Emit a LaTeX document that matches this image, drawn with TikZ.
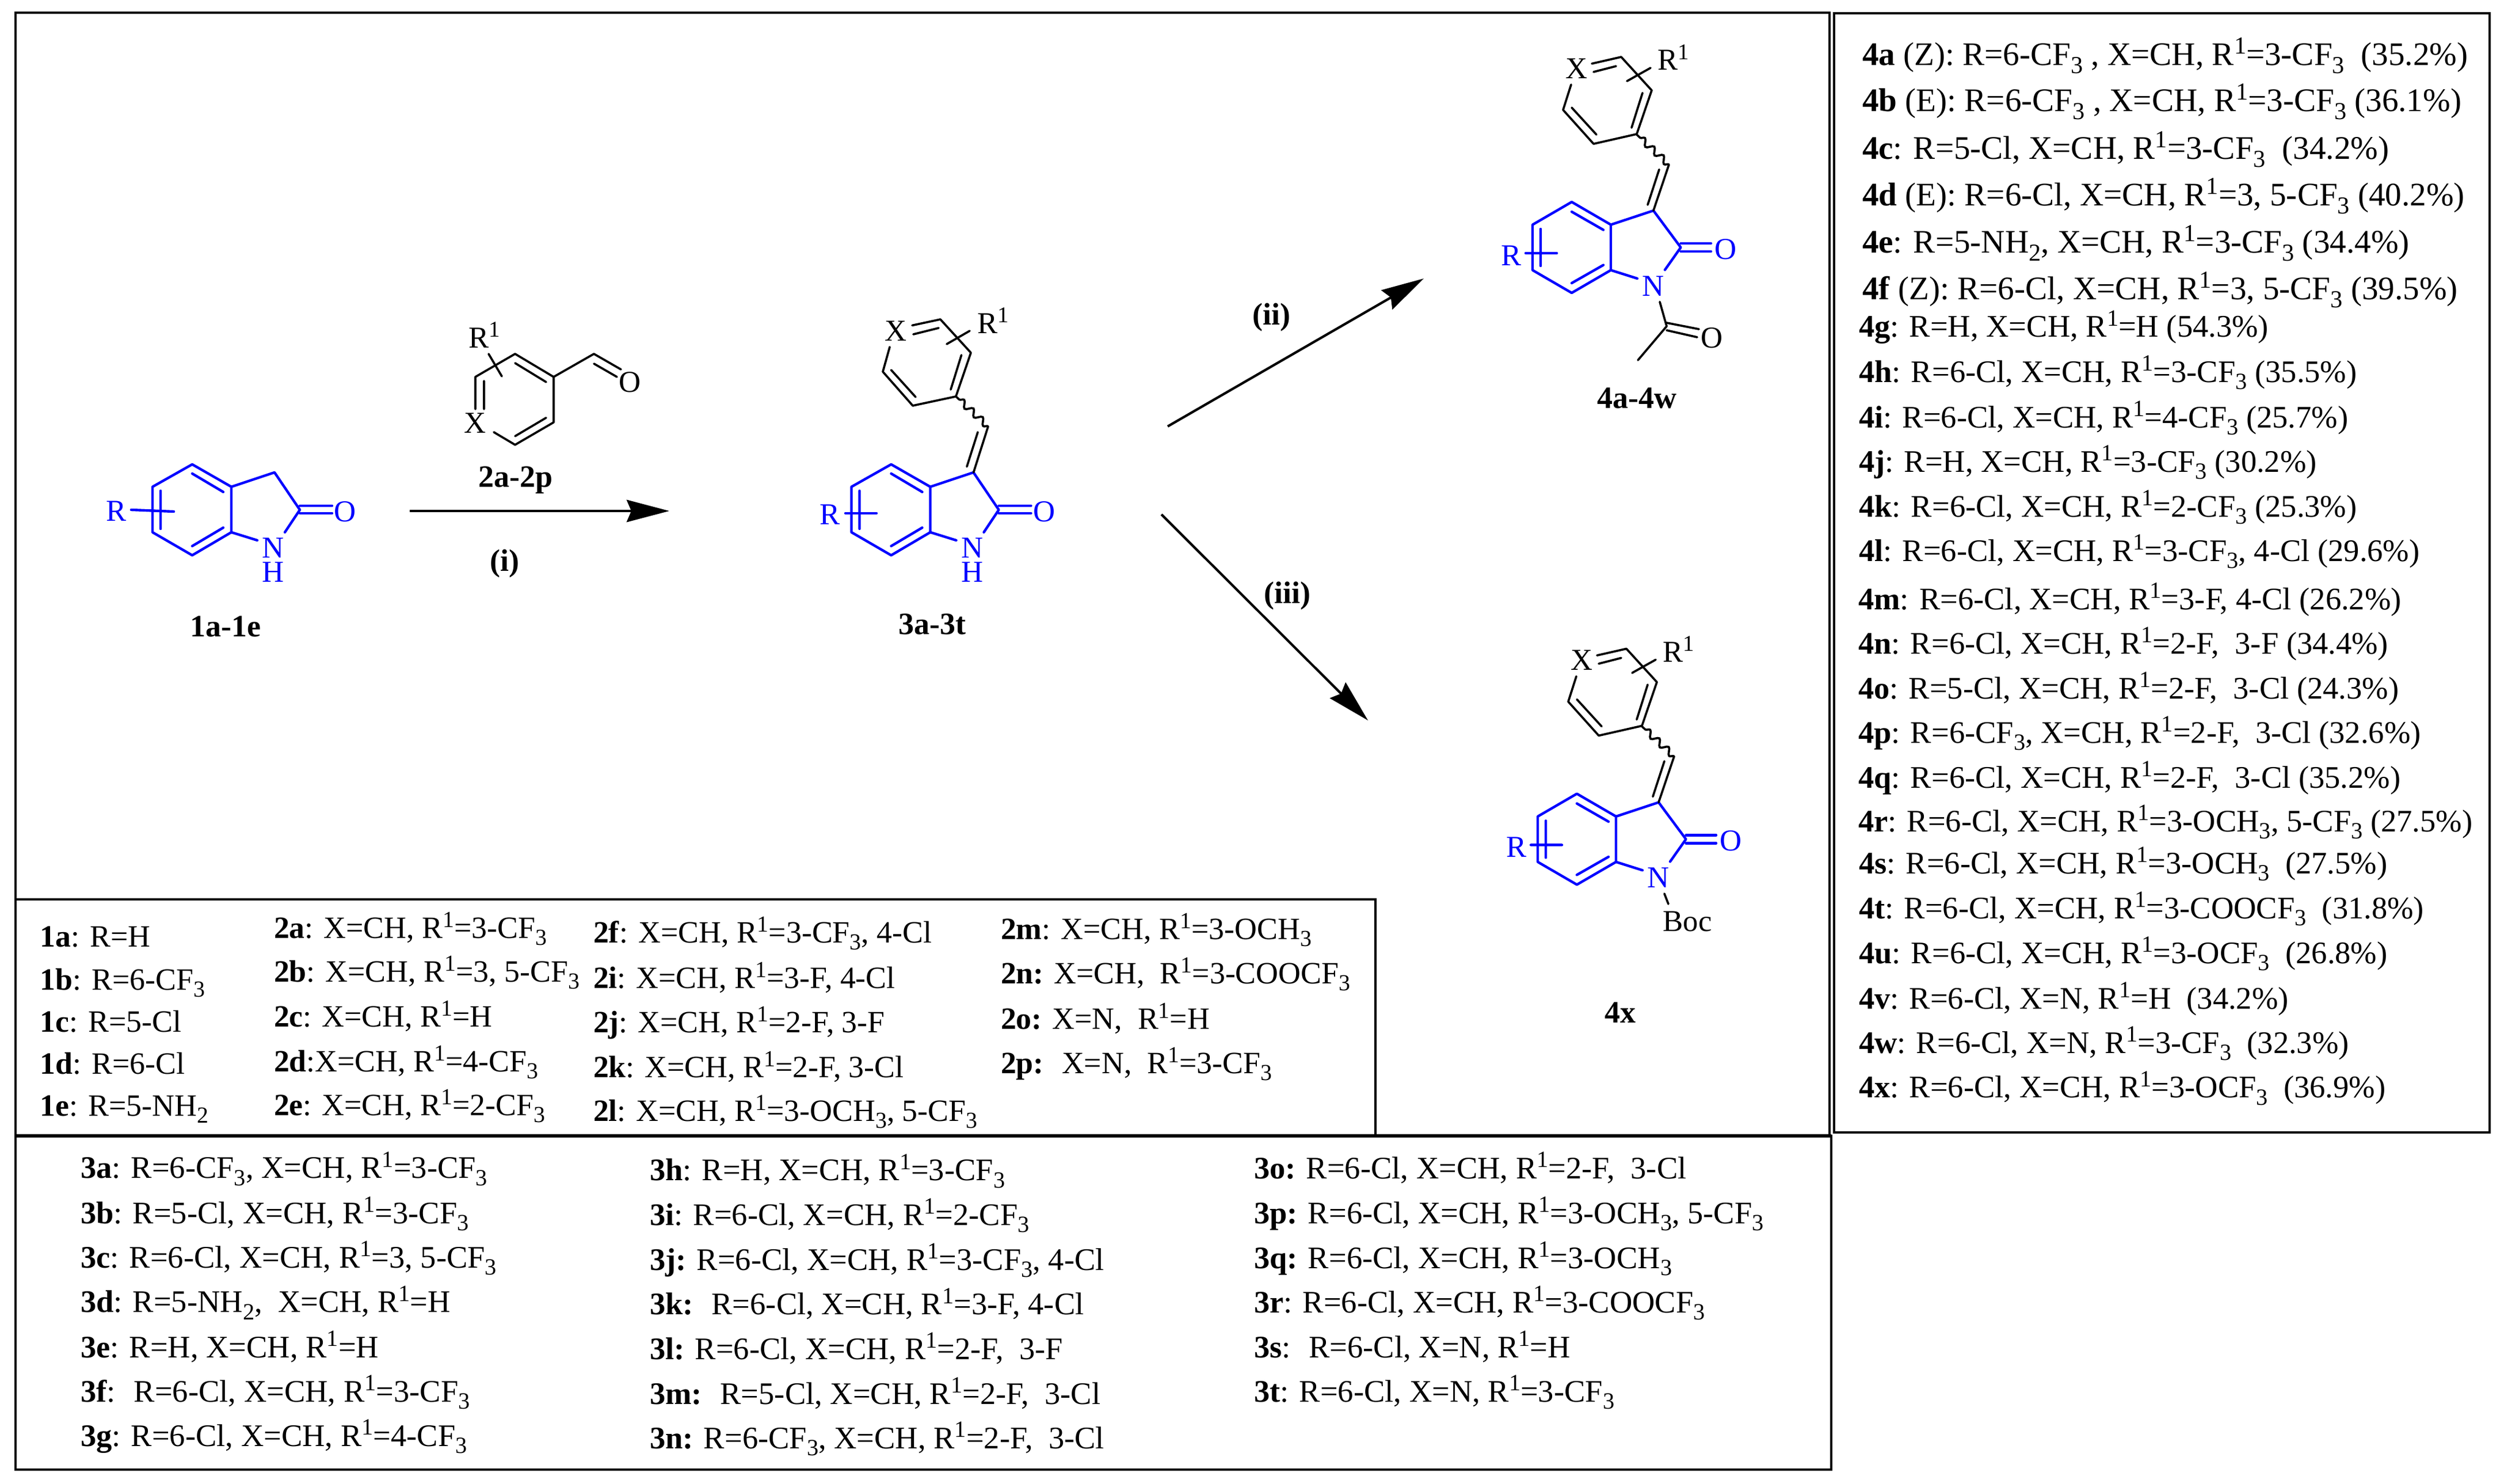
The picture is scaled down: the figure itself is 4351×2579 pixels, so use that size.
\documentclass[tikz,border=0pt]{standalone}
\usepackage{fontspec}
\setmainfont{Liberation Serif}
\usetikzlibrary{arrows.meta,decorations.pathmorphing}
\definecolor{chemblue}{RGB}{0,0,255}
\newcommand\supn[1]{\raisebox{.35em}{\scalebox{.74}{#1}}}
\newcommand\subn[1]{\raisebox{-.23em}{\scalebox{.74}{#1}}}
\newcommand\Ra{R\supn{1}}
\newcommand\CFt{CF\subn{3}}
\newcommand\OCHt{OCH\subn{3}}
\newcommand\tl[5][tabB]{\node[tx,#1] (t#2) at (#3,#4) {#5};}
\tikzset{
  tx/.style={anchor=base west,inner sep=0pt,outer sep=0pt},
  tabA/.style={font=\fontsize{15.3}{18}\selectfont},
  tabB/.style={font=\fontsize{15.5}{18}\selectfont},
  tabC/.style={font=\fontsize{15.5}{18}\selectfont},
  tabD/.style={font=\fontsize{16.25}{18}\selectfont},
  atomlab/.style={inner sep=0pt,outer sep=0pt,font=\fontsize{15}{16}\selectfont},
  nhlab/.style={inner sep=0pt,outer sep=0pt,align=center,text=chemblue,font=\fontsize{15}{12}\selectfont},
  cmpd/.style={inner sep=0pt,outer sep=0pt,font=\fontsize{15.36}{18}\selectfont\bfseries},
  bbond/.style={draw=chemblue,line width=1.25pt,line cap=round,line join=round},
  kbond/.style={draw=black,line width=1.05pt,line cap=round,line join=round},
  wavy/.style={draw=black,line width=1.05pt,decorate,decoration={snake,segment length=.22cm,amplitude=.055cm}},
  frameline/.style={draw=black,line width=1.05pt},
  rxn/.style={draw=black,line width=1.2pt,-{Stealth[length=.74cm,width=.385cm,inset=.08cm]}},
}
% oxindole core used for 1a-1e and 3a-3t
\newcommand\coreNH[2]{%
 \begin{scope}[xshift=#2*0.01cm]
  \draw[bbond] (402,846)--(334,807)--(265,846)--(265,925)--(334,965)--(402,925)--cycle;
  \draw[bbond] (402,846)--(477,821)--(521,886)--(495,925);
  \draw[bbond] (402,925)--(447,939);
  \draw[bbond] (334,823)--(388,855) (334,949)--(388,917) (279,853)--(279,919);
  \draw[bbond] (521,879)--(577,879) (521,892)--(577,892);
  \node[atomlab,text=chemblue] (#1O) at (600,889) {O};
  \node[nhlab] (#1N) at (475,973) {N\\H};
 \end{scope}}
% N-substituted product core with aryl ring
\newcommand\coreProd[3]{%
 \begin{scope}[shift={(#2,#3)}]
  \draw[bbond] (2799,390.5)--(2731,351)--(2663,390.5)--(2663,469.5)--(2731,509)--(2799,469.5)--cycle;
  \draw[bbond] (2799,390.5)--(2873,366)--(2920.5,430)--(2893,469);
  \draw[bbond] (2799,469.5)--(2845,484);
  \draw[bbond] (2731,368)--(2786,399.5) (2731,492)--(2786,460.6) (2677,398)--(2677,462) (2651,440)--(2705,440);
  \draw[bbond] (2920.5,423)--(2973,423) (2920.5,437)--(2973,437);
  \node[atomlab,text=chemblue] (#1O) at (2999,433) {O};
  \node[atomlab,text=chemblue] (#1N) at (2873,497) {N};
  \node[atomlab,text=chemblue] (#1R) at (2626,444) {R};
  \draw[kbond] (2873,366)--(2900,286) (2863,356)--(2883,294.5);
  \draw[wavy] (2900,286)--(2844,234);
  \draw[kbond] (2730,147)--(2716,191)--(2769,250)--(2844,233)--(2870,157)--(2817,99)--(2766,110.6);
  \draw[kbond] (2808,115)--(2769,125) (2731,187)--(2774,234) (2854,161.5)--(2835,222) (2868,118)--(2827,141);
  \node[atomlab] (#1X) at (2740,119) {X};
  \node[atomlab,tx] (#1Ra) at (2880,122) {\Ra};
 \end{scope}}
\begin{document}
\begin{tikzpicture}[x=0.01cm,y=-0.01cm]
\useasboundingbox (0,0) rectangle (4351,2579);
% frames
\draw[frameline] (27,22) rectangle (3179,1974);
\draw[frameline] (27,1563) rectangle (2390,1974);
\draw[frameline] (27,1974) rectangle (3182,2554);
\draw[frameline] (3187,23) rectangle (4326,1968);
\draw[draw=black,line width=1.9pt] (27,1974)--(3182,1974);
\draw[draw=black,line width=1.3pt] (27,1563)--(2390,1563);
\draw[draw=black,line width=1.3pt] (27,22)--(3179,22);

% compound 1
\coreNH{a}{0}
\draw[bbond] (228,886)--(302,889);
\node[atomlab,text=chemblue] (aR) at (202,888) {R};
\node[cmpd] (lab1) at (392,1089) {1a-1e};

% compound 2
\draw[kbond] (826,711)--(826,655)--(895,615)--(962,655)--(962,734)--(895,773)--(858,751);
\draw[kbond] (841,662)--(841,711) (895,631)--(949,664) (949,726)--(895,758) (849,615)--(872,654);
\draw[kbond] (962,655)--(1032,615)--(1079,642) (1032,632)--(1072,655);
\node[atomlab] (bX) at (826,735) {X};
\node[atomlab] (bO) at (1095,664) {O};
\node[atomlab,tx] (bR) at (814,604) {\Ra};
\node[cmpd] (lab2) at (896,834) {2a-2p};
\node[cmpd] (labi) at (877,980) {(i)};

% compound 3
\coreNH{c}{1214.5}
\draw[bbond] (1469,892)--(1523,892);
\node[atomlab,text=chemblue] (cR) at (1442,894) {R};
\draw[kbond] (1691.6,821)--(1717,741) (1680,811)--(1699,751);
\draw[wavy] (1717,741)--(1661,689);
\draw[kbond] (1546,603)--(1534,646)--(1586,705)--(1661,689)--(1687,613)--(1634,555)--(1585,565.5);
\draw[kbond] (1587,581)--(1631,570) (1548.5,643)--(1591,690) (1670.6,617)--(1652,677) (1685,575)--(1645,598);
\node[atomlab] (cX) at (1557,575) {X};
\node[atomlab,tx] (cRa) at (1698,579) {\Ra};
\node[cmpd] (lab3) at (1620,1085) {3a-3t};

% compound 4a-4w
\coreProd{d}{0}{0}
\draw[kbond] (2884,524.5)--(2896,567)--(2846,626);
\draw[kbond] (2896,561)--(2952,572) (2896,574)--(2949,586);
\node[atomlab] (dO2) at (2975,587) {O};
\node[cmpd] (lab4) at (2844,692) {4a-4w};

% compound 4x
\coreProd{e}{9}{1028.4}
\draw[kbond] (2892,1553)--(2899,1571);
\node[atomlab] (eB) at (2932,1601) {Boc};
\node[cmpd] (lab4x) at (2815,1760) {4x};

% arrows
\coordinate (s1) at (712,888); \coordinate (e1) at (1163,888);
\coordinate (s2) at (2029,741); \coordinate (e2) at (2474,484);
\coordinate (s3) at (2018,894); \coordinate (e3) at (2377,1252);
\draw[rxn] (s1)--(e1);
\draw[rxn] (s2)--(e2);
\draw[rxn] (s3)--(e3);
\node[cmpd] (labii) at (2209,552) {(ii)};
\node[cmpd] (labiii) at (2237,1036) {(iii)};

% list 1
\tl[tabA]{1a}{70}{1645}{\textbf{1a}: R=H}
\tl[tabA]{1b}{70}{1720}{\textbf{1b}: R=6-\CFt{}}
\tl[tabA]{1c}{70}{1793}{\textbf{1c}: R=5-Cl}
\tl[tabA]{1d}{70}{1866}{\textbf{1d}: R=6-Cl}
\tl[tabA]{1e}{70}{1939}{\textbf{1e}: R=5-NH\subn{2}}
% list 2
\tl[tabA]{2a}{476}{1630}{\textbf{2a}: X=CH, \Ra{}=3-\CFt{}}
\tl[tabA]{2b}{476}{1706}{\textbf{2b}: X=CH, \Ra{}=3, 5-\CFt{}}
\tl[tabA]{2c}{476}{1784}{\textbf{2c}: X=CH, \Ra{}=H}
\tl[tabA]{2d}{476}{1862}{\textbf{2d}:X=CH, \Ra{}=4-\CFt{}}
\tl[tabA]{2e}{476}{1938}{\textbf{2e}: X=CH, \Ra{}=2-\CFt{}}
\tl[tabA]{2f}{1031}{1638}{\textbf{2f}: X=CH, \Ra{}=3-\CFt{}, 4-Cl}
\tl[tabA]{2i}{1031}{1717}{\textbf{2i}: X=CH, \Ra{}=3-F, 4-Cl}
\tl[tabA]{2j}{1031}{1794}{\textbf{2j}: X=CH, \Ra{}=2-F, 3-F}
\tl[tabA]{2k}{1031}{1872}{\textbf{2k}: X=CH, \Ra{}=2-F, 3-Cl}
\tl[tabA]{2l}{1031}{1948}{\textbf{2l}: X=CH, \Ra{}=3-\OCHt{}, 5-\CFt{}}
\tl[tabA]{2m}{1739}{1632}{\textbf{2m}: X=CH, \Ra{}=3-\OCHt{}}
\tl[tabA]{2n}{1739}{1709}{\textbf{2n:} X=CH,~ \Ra{}=3-COOCF\subn{3}}
\tl[tabA]{2o}{1739}{1788}{\textbf{2o:} X=N,~ \Ra{}=H}
\tl[tabA]{2p}{1739}{1865}{\textbf{2p:}~ X=N,~ \Ra{}=3-\CFt{}}
% list 3
\tl{3a}{140}{2047.6}{\textbf{3a}: R=6-\CFt{}, X=CH, \Ra{}=3-\CFt{}}
\tl{3b}{140}{2126}{\textbf{3b}: R=5-Cl, X=CH, \Ra{}=3-\CFt{}}
\tl{3c}{140}{2203}{\textbf{3c}: R=6-Cl, X=CH, \Ra{}=3, 5-\CFt{}}
\tl{3d}{140}{2280.6}{\textbf{3d}: R=5-NH\subn{2},~ X=CH, \Ra{}=H}
\tl{3e}{140}{2359}{\textbf{3e}: R=H, X=CH, \Ra{}=H}
\tl{3f}{140}{2436}{\textbf{3f}:~ R=6-Cl, X=CH, \Ra{}=3-\CFt{}}
\tl{3g}{140}{2513}{\textbf{3g}: R=6-Cl, X=CH, \Ra{}=4-\CFt{}}
\tl{3h}{1129}{2051.6}{\textbf{3h}: R=H, X=CH, \Ra{}=3-\CFt{}}
\tl{3i}{1129}{2129}{\textbf{3i}: R=6-Cl, X=CH, \Ra{}=2-\CFt{}}
\tl{3j}{1129}{2207}{\textbf{3j:} R=6-Cl, X=CH, \Ra{}=3-\CFt{}, 4-Cl}
\tl{3k}{1129}{2284.5}{\textbf{3k:}~ R=6-Cl, X=CH, \Ra{}=3-F, 4-Cl}
\tl{3l}{1129}{2362}{\textbf{3l:} R=6-Cl, X=CH, \Ra{}=2-F,~ 3-F}
\tl{3m}{1129}{2440}{\textbf{3m:}~ R=5-Cl, X=CH, \Ra{}=2-F,~ 3-Cl}
\tl{3n}{1129}{2517}{\textbf{3n:} R=6-\CFt{}, X=CH, \Ra{}=2-F,~ 3-Cl}
\tl{3o}{2179}{2048}{\textbf{3o:} R=6-Cl, X=CH, \Ra{}=2-F,~ 3-Cl}
\tl{3p}{2179}{2126}{\textbf{3p:} R=6-Cl, X=CH, \Ra{}=3-\OCHt{}, 5-\CFt{}}
\tl{3q}{2179}{2204}{\textbf{3q:} R=6-Cl, X=CH, \Ra{}=3-\OCHt{}}
\tl{3r}{2179}{2281}{\textbf{3r}: R=6-Cl, X=CH, \Ra{}=3-COOCF\subn{3}}
\tl{3s}{2179}{2359}{\textbf{3s}:~ R=6-Cl, X=N, \Ra{}=H}
\tl{3t}{2179}{2436}{\textbf{3t}: R=6-Cl, X=N, \Ra{}=3-\CFt{}}
% list 4
\tl[tabD]{4a}{3236}{114}{\textbf{4a} (Z): R=6-\CFt{} , X=CH, \Ra{}=3-\CFt{}~ (35.2\%)}
\tl[tabD]{4b}{3236}{194}{\textbf{4b} (E): R=6-\CFt{} , X=CH, \Ra{}=3-\CFt{} (36.1\%)}
\tl[tabD]{4c}{3236}{277}{\textbf{4c}: R=5-Cl, X=CH, \Ra{}=3-\CFt{}~ (34.2\%)}
\tl[tabD]{4d}{3236}{358}{\textbf{4d} (E): R=6-Cl, X=CH, \Ra{}=3, 5-\CFt{} (40.2\%)}
\tl[tabD]{4e}{3236}{440}{\textbf{4e}: R=5-NH\subn{2}, X=CH, \Ra{}=3-\CFt{} (34.4\%)}
\tl[tabD]{4f}{3236}{521}{\textbf{4f} (Z): R=6-Cl, X=CH, \Ra{}=3, 5-\CFt{} (39.5\%)}
\tl[tabC]{4g}{3230}{586}{\textbf{4g}: R=H, X=CH, \Ra{}=H (54.3\%)}
\tl[tabC]{4h}{3230}{664}{\textbf{4h}: R=6-Cl, X=CH, \Ra{}=3-\CFt{} (35.5\%)}
\tl[tabC]{4i}{3230}{743}{\textbf{4i}: R=6-Cl, X=CH, \Ra{}=4-\CFt{} (25.7\%)}
\tl[tabC]{4j}{3230}{820}{\textbf{4j}: R=H, X=CH, \Ra{}=3-\CFt{} (30.2\%)}
\tl[tabC]{4k}{3230}{898}{\textbf{4k}: R=6-Cl, X=CH, \Ra{}=2-\CFt{} (25.3\%)}
\tl[tabC]{4l}{3230}{975}{\textbf{4l}: R=6-Cl, X=CH, \Ra{}=3-\CFt{}, 4-Cl (29.6\%)}
\tl[tabC]{4m}{3229}{1059}{\textbf{4m}: R=6-Cl, X=CH, \Ra{}=3-F, 4-Cl (26.2\%)}
\tl[tabC]{4n}{3229}{1136}{\textbf{4n}: R=6-Cl, X=CH, \Ra{}=2-F,~ 3-F (34.4\%)}
\tl[tabC]{4o}{3229}{1214}{\textbf{4o}: R=5-Cl, X=CH, \Ra{}=2-F,~ 3-Cl (24.3\%)}
\tl[tabC]{4p}{3229}{1291}{\textbf{4p}: R=6-\CFt{}, X=CH, \Ra{}=2-F,~ 3-Cl (32.6\%)}
\tl[tabC]{4q}{3229}{1369}{\textbf{4q}: R=6-Cl, X=CH, \Ra{}=2-F,~ 3-Cl (35.2\%)}
\tl[tabC]{4r}{3229}{1445}{\textbf{4r}: R=6-Cl, X=CH, \Ra{}=3-\OCHt{}, 5-\CFt{} (27.5\%)}
\tl[tabC]{4s}{3230}{1518}{\textbf{4s}: R=6-Cl, X=CH, \Ra{}=3-\OCHt{}~ (27.5\%)}
\tl[tabC]{4t}{3230}{1596}{\textbf{4t}: R=6-Cl, X=CH, \Ra{}=3-COOCF\subn{3}~ (31.8\%)}
\tl[tabC]{4u}{3230}{1674}{\textbf{4u}: R=6-Cl, X=CH, \Ra{}=3-OCF\subn{3}~ (26.8\%)}
\tl[tabC]{4v}{3230}{1753}{\textbf{4v}: R=6-Cl, X=N, \Ra{}=H~ (34.2\%)}
\tl[tabC]{4w}{3230}{1830}{\textbf{4w}: R=6-Cl, X=N, \Ra{}=3-\CFt{}~ (32.3\%)}
\tl[tabC]{4x}{3230}{1907.5}{\textbf{4x}: R=6-Cl, X=CH, \Ra{}=3-OCF\subn{3}~ (36.9\%)}
\end{tikzpicture}
\end{document}
